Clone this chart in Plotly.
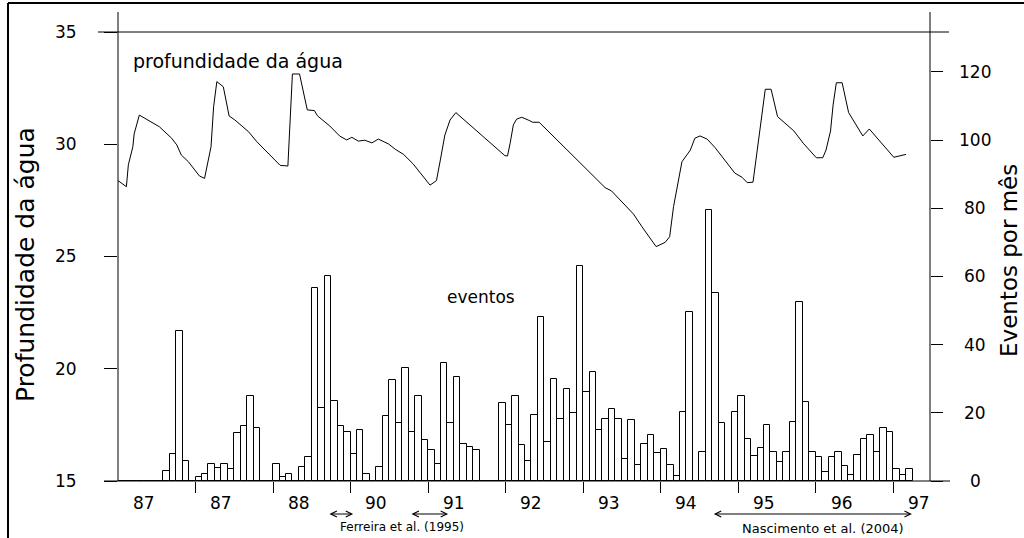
import plotly.graph_objects as go

# Monthly event counts (one bar per month, starting at month 0)
event_counts = [
    0, 0, 0, 0, 0, 0, 0, 3, 8, 44, 6, 0,
    1.3, 2, 5, 3.7, 5, 3.5, 14, 16, 25, 15.5, 0, 0,
    5, 1.3, 2, 0, 4, 7, 56.5, 21.5, 60, 23.5, 16, 14.5,
    8, 15, 2, 0, 4, 19, 29.5, 17, 33, 14.3, 25, 12,
    9, 5, 34.5, 17, 30.5, 11, 10, 9, 0, 0, 0, 23,
    16.5, 25, 10.5, 6, 19.5, 48, 11.3, 30, 18.3, 27, 20, 63,
    26, 32, 15, 18.3, 21, 18.3, 6.6, 18, 4.6, 11, 13.5, 8.2,
    9.3, 4.6, 1.5, 20.3, 49.7, 0, 8.4, 79.6, 55, 17, 0, 20.3,
    25, 12.4, 7.4, 9.6, 16.5, 8.4, 5.6, 8.4, 17.3, 52.6, 23.3, 8.6,
    7, 2.5, 7, 8.6, 4.5, 1.9, 7.5, 12.2, 13.5, 8.4, 15.6, 14.4,
    3.5, 1.7, 3.5,
]
event_months = [m + 0.5 for m in range(len(event_counts))]

# Water depth series (month, depth)
depth_month = [
    0.0, 1.3, 1.6, 2.3, 2.5, 3.3, 6.4, 8.3, 9.1, 9.8, 10.9, 12.6, 13.4,
    14.4, 14.8, 15.3, 16.3, 17.2, 18.1, 20.2, 21.5, 25.1, 26.3, 27.0, 28.1,
    29.3, 30.4, 30.9, 32.8, 34.3, 35.4, 36.2, 37.2, 38.2, 39.3, 40.3, 41.9,
    42.9, 44.2, 45.7, 48.3, 49.3, 49.9, 50.6, 51.4, 52.3, 59.9, 60.3, 60.7,
    61.2, 61.7, 62.5, 63.5, 64.2, 65.2, 75.4, 76.4, 78.0, 79.8, 81.1, 83.3,
    84.7, 85.4, 86.0, 86.5, 87.3, 88.6, 89.3, 90.1, 91.2, 92.4, 93.7, 95.5,
    96.6, 97.4, 98.3, 100.2, 101.1, 101.6, 102.1, 104.6, 106.1, 108.1, 109.1,
    109.6, 110.3, 110.7, 111.2, 112.1, 113.1, 115.3, 116.3, 120.1, 122.0,
]
depth_value = [
    28.38, 28.11, 29.08, 29.89, 30.46, 31.30, 30.78, 30.27, 29.97, 29.52,
    29.22, 28.59, 28.48, 29.89, 31.67, 32.79, 32.56, 31.26, 31.08, 30.56,
    30.11, 29.06, 29.03, 33.13, 33.13, 31.53, 31.50, 31.26, 30.81, 30.37,
    30.19, 30.31, 30.14, 30.18, 30.06, 30.23, 30.01, 29.78, 29.55, 29.12,
    28.18, 28.38, 29.30, 30.41, 31.08, 31.41, 29.49, 29.48, 30.04, 30.86,
    31.12, 31.20, 31.08, 30.98, 30.98, 28.07, 27.92, 27.44, 26.89, 26.33,
    25.44, 25.63, 25.88, 27.22, 28.04, 29.22, 29.74, 30.27, 30.37, 30.23,
    29.86, 29.37, 28.71, 28.53, 28.29, 28.31, 32.45, 32.45, 31.82, 31.23,
    30.60, 30.04, 29.40, 29.40, 29.74, 30.59, 31.75, 32.74, 32.74, 31.41,
    30.37, 30.68, 29.42, 29.55,
]

# Year labels along the time axis (one per 12-month block)
year_labels = ["87", "87", "88", "90", "91", "92", "93", "94", "95", "96", "97"]
year_ticks = [12, 24, 36, 48, 60, 72, 84, 96, 108, 120]

depth_ticks = [15, 20, 25, 30, 35]
event_ticks = [0, 20, 40, 60, 80, 100, 120]

FONT = "DejaVu Sans"
W, H = 1024, 538
ML, MR, MT, MB = 118, 94, 32, 57
PW, PH = W - ML - MR, H - MT - MB
X_MAX = 125.7


def px(xpix):
    return (xpix - ML) / PW


def py(ypix):
    return (H - MB - ypix) / PH


fig = go.Figure()

fig.add_trace(go.Bar(
    x=event_months, y=event_counts, width=1.0, yaxis="y2",
    marker=dict(color="white", line=dict(color="black", width=1)),
    showlegend=False, hoverinfo="skip",
))
fig.add_trace(go.Scatter(
    x=depth_month, y=depth_value, mode="lines", yaxis="y",
    line=dict(color="black", width=1), showlegend=False, hoverinfo="skip",
))

fig.update_layout(
    width=W, height=H,
    margin=dict(l=ML, r=MR, t=MT, b=MB),
    paper_bgcolor="white", plot_bgcolor="white",
    font=dict(family=FONT, size=17, color="black"),
    bargap=0,
    xaxis=dict(
        range=[0, X_MAX], tickvals=year_ticks, showticklabels=False,
        ticks="outside", ticklen=11, tickcolor="black", tickwidth=1,
        showgrid=False, zeroline=False, showline=False,
    ),
    yaxis=dict(
        range=[15, 35], tickvals=depth_ticks, ticks="outside", ticklen=13,
        tickcolor="black", tickwidth=1, showgrid=False, zeroline=False,
        showline=False, ticklabelstandoff=24,
    ),
    yaxis2=dict(
        range=[0, 131.7], tickvals=event_ticks, ticks="outside", ticklen=12,
        tickcolor="black", tickwidth=1, showgrid=False, zeroline=False,
        showline=False, overlaying="y", side="right", showticklabels=False,
    ),
)

black = dict(color="black", width=1)
shapes = [
    # vertical axes, rising a little above the top rule
    dict(type="line", xref="paper", yref="paper", x0=0, x1=0, y0=0, y1=py(12), line=black),
    dict(type="line", xref="paper", yref="paper", x0=1, x1=1, y0=0, y1=py(12), line=black),
    # bottom axis line and top rule
    dict(type="line", xref="paper", yref="paper", x0=px(104), x1=px(950), y0=0, y1=0, line=black),
    dict(type="line", xref="paper", yref="paper", x0=px(98), x1=px(949), y0=1, y1=1, line=black),
    # outer frame
    dict(type="line", xref="paper", yref="paper", x0=px(8), x1=px(8), y0=py(545), y1=py(3),
         line=dict(color="black", width=2)),
    dict(type="line", xref="paper", yref="paper", x0=px(8), x1=px(1024), y0=py(3), y1=py(3),
         line=dict(color="black", width=2)),
]
fig.update_layout(shapes=shapes)

annotations = []
for i, lab in enumerate(year_labels):
    annotations.append(dict(
        x=12 * i + 4, xref="x", y=py(503), yref="paper", text=lab,
        showarrow=False, xanchor="center", yanchor="middle",
        font=dict(size=17),
    ))

# right-hand event tick labels, centred in their column
for v in event_ticks:
    annotations.append(dict(
        x=px(975), xref="paper", y=v, yref="y2", text=str(v),
        showarrow=False, xanchor="center", yanchor="middle",
        font=dict(size=17),
    ))

annotations += [
    dict(x=2, xref="x", y=33.7, yref="y", text="profundidade da água",
         showarrow=False, xanchor="left", yanchor="middle", font=dict(size=19)),
    dict(x=56.2, xref="x", y=54, yref="y2", text="eventos",
         showarrow=False, xanchor="center", yanchor="middle", font=dict(size=17)),
    dict(x=px(25), xref="paper", y=py(265), yref="paper", text="Profundidade da água",
         textangle=-90, showarrow=False, xanchor="center", yanchor="middle",
         font=dict(size=25)),
    dict(x=px(1009), xref="paper", y=py(261), yref="paper", text="Eventos por mês",
         textangle=-90, showarrow=False, xanchor="center", yanchor="middle",
         font=dict(size=23)),
    dict(x=43.9, xref="x", y=py(527), yref="paper", text="Ferreira et al. (1995)",
         showarrow=False, xanchor="center", yanchor="middle", font=dict(size=12)),
    dict(x=109.2, xref="x", y=py(528), yref="paper", text="Nascimento et al. (2004)",
         showarrow=False, xanchor="center", yanchor="middle", font=dict(size=13)),
]

# double-headed period arrows under the time axis
for x0, x1 in [(32.5, 36.4), (45.2, 51.1), (92.0, 122.9)]:
    annotations.append(dict(
        x=x1, xref="x", y=py(514), yref="paper", ax=x0, axref="x", ay=0, ayref="pixel",
        text="", showarrow=True, arrowhead=5, startarrowhead=5, arrowside="end+start",
        arrowwidth=1, arrowsize=1.2, startarrowsize=1.2, arrowcolor="black",
    ))

fig.update_layout(annotations=annotations)

fig.write_html("out.html")
